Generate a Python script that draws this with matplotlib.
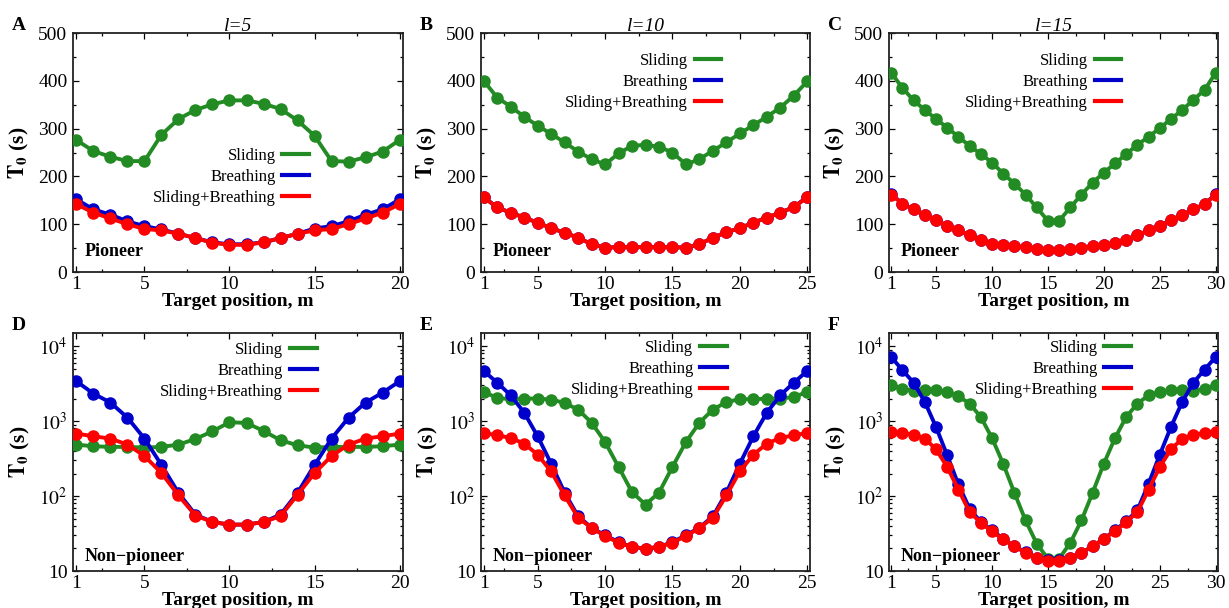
import matplotlib
matplotlib.use("Agg")
import matplotlib.pyplot as plt
from matplotlib.ticker import FixedLocator, MultipleLocator, LogLocator, NullFormatter, FixedFormatter
import numpy as np

plt.rcParams['font.family'] = ['Liberation Serif', 'DejaVu Serif']
plt.rcParams['mathtext.fontset'] = 'stix'

# ---------------- data ----------------
x_a = list(range(1, 21))
x_b = list(range(1, 26))
x_c = list(range(1, 31))

# Panel A (l=5, pioneer)
a_sliding = [276, 253, 241, 232, 232, 287, 320, 339, 351, 359, 359, 352, 341, 317, 285, 232, 231, 240, 252, 276]
a_breathing = [152, 131, 120, 106, 96, 89, 80, 71, 62, 58, 58, 62, 71, 80, 91, 96, 106, 120, 131, 152]
a_both = [142, 124, 112, 100, 90, 87, 80, 71, 61, 57, 57, 62, 71, 80, 87, 90, 100, 112, 124, 142]

# Panel B (l=10, pioneer)
b_sliding = [400, 365, 346, 325, 306, 289, 271, 252, 236, 225, 248, 264, 266, 262, 250, 225, 236, 254, 271, 290, 307, 325, 344, 369, 399]
b_breathing = [157, 135, 124, 114, 103, 92, 82, 72, 58, 51, 52, 52, 52, 52, 52, 51, 58, 72, 83, 92, 103, 114, 124, 136, 157]
b_both = [156, 135, 124, 114, 103, 92, 82, 72, 58, 51, 52, 52, 52, 52, 52, 51, 58, 72, 83, 92, 103, 114, 124, 136, 156]

# Panel C (l=15, pioneer)
c_sliding = [417, 385, 359, 339, 320, 302, 283, 264, 247, 229, 206, 185, 162, 135, 107,
             107, 135, 162, 187, 208, 227, 247, 266, 283, 301, 320, 339, 360, 381, 417]
c_breathing = [163, 143, 131, 119, 108, 97, 87, 77, 66, 59, 56, 54, 52, 49, 45,
               45, 49, 51, 54, 56, 61, 67, 77, 87, 97, 108, 119, 131, 142, 163]
c_both = [162, 143, 131, 119, 108, 97, 87, 77, 66, 59, 56, 54, 52, 49, 45,
          45, 49, 51, 54, 56, 61, 67, 77, 87, 97, 108, 119, 131, 142, 162]

# Panel D (l=5, non-pioneer)
d_sliding = [486, 462, 453, 453, 444, 453, 486, 578, 732, 966, 946, 740, 556, 476, 444, 453, 453, 453, 462, 486]
d_breathing = [3400, 2330, 1770, 1113, 585, 260, 110, 56.5, 45, 41.6, 41.6, 45, 56.5, 110, 260, 585, 1113, 1770, 2400, 3400]
d_both = [682, 628, 585, 486, 343, 203, 102, 55, 45, 41.6, 41.6, 45, 54, 104, 203, 343, 486, 585, 628, 682]

# Panel E (l=10, non-pioneer)
e_sliding = [2455, 2040, 1960, 2000, 2000, 1940, 1750, 1426, 955, 527, 245, 113, 77, 111, 245, 527, 955, 1426, 1800, 1960, 1960, 2000, 2000, 2100, 2455]
e_breathing = [4680, 3265, 2213, 1300, 628, 271, 111, 53.7, 37.9, 29.9, 24.4, 20.9, 19.9, 20.9, 24.4, 29.9, 37.9, 53.7, 111, 271, 628, 1300, 2213, 3265, 4680]
e_both = [695, 647, 597, 501, 357, 214, 102, 51.5, 37.5, 29.3, 23.9, 20.9, 19.9, 20.9, 23.9, 29.3, 37.5, 51.5, 102, 214, 357, 501, 597, 647, 695]

# Panel F (l=15, non-pioneer)
f_sliding = [3013, 2718, 2530, 2636, 2583, 2455, 2148, 1714, 1137, 597, 271, 111, 47.4, 23.2, 14.6,
             14.6, 23.7, 47.4, 111, 271, 597, 1137, 1714, 2214, 2455, 2583, 2583, 2530, 2718, 3013]
f_breathing = [7194, 4775, 3266, 1803, 837, 350, 143, 67.9, 45, 34.9, 27, 21.3, 17.9, 15.1, 13.9,
               13.9, 15.1, 17.6, 21.3, 27, 34.9, 46, 64.6, 146.6, 357, 837, 1803, 3266, 4875, 7194]
f_both = [717, 695, 661, 585, 421, 245, 122, 61.3, 44.2, 33.9, 26.5, 21.3, 17.6, 15.1, 13.6,
          13.6, 15.1, 17.6, 21.3, 27, 33.9, 45, 61.3, 122, 245, 421, 585, 661, 695, 717]

series_labels = ["Sliding", "Breathing", "Sliding+Breathing"]
panel_letters = ["A", "B", "C", "D", "E", "F"]
titles = ["l=5", "l=10", "l=15"]
x_ticks = [[1, 5, 10, 15, 20], [1, 5, 10, 15, 20, 25], [1, 5, 10, 15, 20, 25, 30]]
log_ticks = [10, 100, 1000, 10000]
log_tick_labels = ["10", r"$10^2$", r"$10^3$", r"$10^4$"]

# ---------------- style ----------------
colors = ["#238b23", "#0000cc", "#ff0000"]
W, H = 1229, 608
fig = plt.figure(figsize=(W / 100, H / 100), dpi=100)

lefts = [73, 481, 889]
widths = [330, 329, 329]
rows = [(33, 272), (333, 571)]

legend_pos = [(0.715, 0.518), (0.731, 0.915), (0.706, 0.915),
              (0.738, 0.962), (0.747, 0.970), (0.736, 0.970)]

data = [
    (x_a, [a_sliding, a_breathing, a_both]),
    (x_b, [b_sliding, b_breathing, b_both]),
    (x_c, [c_sliding, c_breathing, c_both]),
    (x_a, [d_sliding, d_breathing, d_both]),
    (x_b, [e_sliding, e_breathing, e_both]),
    (x_c, [f_sliding, f_breathing, f_both]),
]

tick_fs = 14
for i in range(6):
    r, c = divmod(i, 3)
    top, bot = rows[r]
    ax = fig.add_axes([lefts[c] / W, 1 - bot / H, widths[c] / W, (bot - top) / H])
    xs, ys = data[i]
    for yv, col, lab in zip(ys, colors, series_labels):
        ax.plot(xs, yv, '-', color=col, lw=2.8, marker='o', ms=8, label=lab, zorder=3)
    ax.set_xlim(xs[0] - 0.2, xs[-1] + 0.2)
    ax.xaxis.set_major_locator(FixedLocator(x_ticks[c]))
    ax.xaxis.set_minor_locator(MultipleLocator(2.5))
    if r == 0:
        ax.set_ylim(0, 500)
        ax.yaxis.set_major_locator(MultipleLocator(100))
        ax.yaxis.set_minor_locator(MultipleLocator(50))
    else:
        ax.set_yscale('log')
        ax.set_ylim(10, 15000)
        ax.yaxis.set_major_locator(FixedLocator(log_ticks))
        ax.yaxis.set_major_formatter(FixedFormatter(log_tick_labels))
        ax.yaxis.set_minor_locator(LogLocator(base=10, subs=np.arange(2, 10)))
        ax.yaxis.set_minor_formatter(NullFormatter())
    ax.tick_params(which='both', direction='in', top=True, right=True, labelsize=tick_fs, width=0.9)
    ax.tick_params(which='major', length=4, pad=4)
    ax.tick_params(which='minor', length=2)
    ax.tick_params(axis='x', pad=3)
    for s in ax.spines.values():
        s.set_linewidth(1.3)
        s.set_color('#222222')
    ax.set_xlabel("Target position, m", fontsize=14, fontweight='bold', labelpad=0)
    ax.set_ylabel(r"$\mathbf{T_0}$ (s)", fontsize=15.5, fontweight='bold', labelpad=5)
    if r == 0:
        ax.text(0.5, 1.008, titles[c], transform=ax.transAxes, fontsize=14, style='italic',
                ha='center', va='baseline')
    leg = ax.legend(loc='upper right', bbox_to_anchor=legend_pos[i], frameon=False,
                    markerfirst=False, fontsize=12, handlelength=1.6, handletextpad=0.4,
                    labelspacing=0.3, borderpad=0, borderaxespad=0)
    for h in leg.legend_handles:
        h.set_marker('')
        h.set_linewidth(3)
    ax.text(0.035, 0.085 if r == 0 else 0.06, "Pioneer" if r == 0 else "Non\u2212pioneer",
            transform=ax.transAxes, fontsize=13, fontweight='bold', va='center', ha='left')
    fig.text((lefts[c] - 61) / W, 1 - (top - 7) / H, panel_letters[i], fontsize=14,
             fontweight='bold', va='center', ha='left')

fig.savefig("out.png", dpi=100)
